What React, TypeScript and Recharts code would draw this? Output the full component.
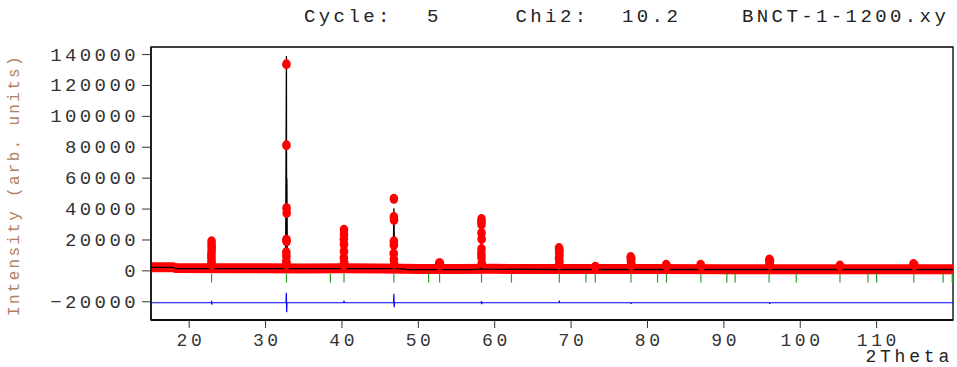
import React from "react";
import { ComposedChart, Line, Scatter, XAxis, YAxis, ReferenceArea } from "recharts";

const FONT = '"Liberation Mono", "Courier New", monospace';

const xTicks = [20, 30, 40, 50, 60, 70, 80, 90, 100, 110];
const yTicks = [-20000, 0, 20000, 40000, 60000, 80000, 100000, 120000, 140000];

// observed background band (2Theta, counts)
const obsBackground: [number, number][] = [
  [15, 2400], [17.8, 2400], [18.3, 1800], [25, 1700], [30, 1700], [35, 1600],
  [40, 1700], [45, 1600], [48, 1400], [50, 1200], [55, 1200], [60, 1300],
  [65, 1200], [70, 1200], [80, 1200], [90, 1100], [100, 1100], [110, 1100], [120, 1100],
];

// observed points on the reflections
const obsPeaks: [number, number][] = [
  [22.93, 19100], [22.93, 16800], [22.95, 14800], [22.93, 12500], [22.91, 10500], [22.91, 8600], [22.93, 6500], [22.89, 4500], [22.97, 4000],
  [32.73, 133700], [32.73, 81300], [32.75, 40600], [32.76, 37400], [32.73, 20200], [32.75, 19100], [32.71, 12000], [32.73, 9400], [32.71, 6200], [32.77, 4200],
  [40.27, 26600], [40.27, 23500], [40.25, 20500], [40.27, 17000], [40.27, 12500], [40.25, 8400], [40.29, 5500], [40.23, 3800],
  [46.8, 46600], [46.8, 34800], [46.82, 33000], [46.8, 19100], [46.8, 16800], [46.78, 11200], [46.8, 7300], [46.84, 4500],
  [52.74, 5000], [52.84, 4800], [52.78, 3500],
  [58.27, 33500], [58.27, 32000], [58.27, 30000], [58.27, 24500], [58.29, 20600], [58.27, 14200], [58.25, 11000], [58.27, 8600], [58.31, 5000],
  [68.42, 14800], [68.48, 13500], [68.44, 12000], [68.48, 10000], [68.42, 8000], [68.48, 6000], [68.44, 4000],
  [73.17, 2600],
  [77.8, 9000], [77.88, 8000], [77.82, 6500], [77.88, 5000], [77.84, 3500],
  [82.45, 4000], [82.52, 3000],
  [86.95, 4000], [87.03, 3200],
  [95.95, 7300], [96.05, 6500], [95.97, 5000], [96.03, 3800],
  [105.2, 3400],
  [114.82, 4500], [114.95, 3700],
];

// calculated profile
const calcProfile: [number, number][] = [
  [15, 2300], [17.8, 2300], [18.2, 1500], [22.8, 1500], [22.93, 21300], [23.06, 1500],
  [32.62, 1500], [32.73, 139000], [32.76, 4000], [32.79, 60000], [32.86, 1500],
  [40.17, 1500], [40.27, 24900], [40.37, 1500], [46.7, 1500], [46.8, 40600], [46.9, 1500],
  [48, 1300], [48.5, 800], [52.65, 800], [52.78, 3000], [52.9, 800], [57, 800], [57.5, 1100],
  [58.17, 1100], [58.27, 26600], [58.37, 1100], [68.36, 900], [68.46, 11600], [68.56, 900],
  [73.1, 900], [73.17, 2800], [73.25, 900], [77.75, 900], [77.84, 6500], [77.95, 900],
  [82.4, 900], [82.49, 2800], [82.6, 900], [86.9, 900], [86.99, 2800], [87.1, 900],
  [95.9, 900], [96.0, 5000], [96.12, 900], [105.1, 900], [105.2, 2500], [105.3, 900],
  [114.75, 900], [114.87, 2800], [115, 900], [120, 900],
];

// Bragg reflection positions
const braggPositions = [
  22.93, 32.74, 38.49, 40.27, 46.8, 51.34, 52.78, 58.27, 62.19, 68.46, 71.95, 73.17,
  77.84, 81.32, 82.49, 86.99, 90.39, 91.47, 95.92, 99.48, 105.2, 108.86, 110.0, 114.87, 118.7, 119.9,
];
const braggLevel = -4650;

// Yobs - Ycalc, shifted
const difference: [number, number][] = [
  [15, -20650], [22.88, -20650], [22.93, -19400], [22.97, -21800], [23.0, -20650],
  [32.68, -20650], [32.72, -14200], [32.76, -26700], [32.8, -20650],
  [40.24, -20650], [40.27, -19200], [40.31, -20650],
  [46.76, -20650], [46.8, -14800], [46.84, -23500], [46.88, -20650],
  [58.22, -20650], [58.27, -19600], [58.31, -21600], [58.35, -20650],
  [68.43, -20650], [68.46, -19200], [68.5, -20650],
  [77.82, -20650], [77.85, -21400], [77.88, -20650],
  [95.98, -20650], [96.01, -21300], [96.04, -20650], [120, -20650],
];

const pts = (rows: [number, number][]) => rows.map(([x, y]) => ({ x, y }));

const RedDot = (p: any) => <ellipse cx={p.cx} cy={p.cy} rx={4.3} ry={5} fill="#ff0000" />;
const BraggTick = (p: any) => (
  <line x1={p.cx} x2={p.cx} y1={p.cy - 4.5} y2={p.cy + 4.5} stroke="#2e9e2e" strokeWidth={1.2} />
);

const YTick = ({ x, y, payload }: any) => (
  <text x={x} y={y} dy={6} textAnchor="end" fontFamily={FONT} fontSize={19} letterSpacing={3.4} fill="#333">
    {String(payload.value).replace("-", "\u2212")}
  </text>
);
const XTick = ({ x, y, payload }: any) => (
  <text x={x + 1.8} y={y} dy={13} textAnchor="middle" fontFamily={FONT} fontSize={18} letterSpacing={3.6} fill="#333">
    {payload.value}
  </text>
);

export default function App() {
  const txt = { fontFamily: FONT, fontSize: 19, letterSpacing: 3.4, fill: "#222" };
  return (
    <div style={{ position: "absolute", left: 0, top: 0, width: 957, height: 367, background: "#fff" }}>
      <ComposedChart width={957} height={367} margin={{ top: 47, right: 4, bottom: 0, left: 0 }}>
        <XAxis
          type="number"
          dataKey="x"
          domain={[15, 120]}
          ticks={xTicks}
          allowDataOverflow
          height={47}
          tickSize={8}
          tickMargin={5}
          tick={<XTick />}
          axisLine={{ stroke: "#000", strokeWidth: 1.3 }}
          tickLine={{ stroke: "#333" }}
        />
        <YAxis
          type="number"
          dataKey="y"
          domain={[-31800, 144900]}
          ticks={yTicks}
          allowDataOverflow
          width={151}
          tickSize={9}
          tickMargin={3}
          tick={<YTick />}
          axisLine={{ stroke: "#000", strokeWidth: 1.3 }}
          tickLine={{ stroke: "#333" }}
        />
        <Line data={pts(obsBackground)} dataKey="y" stroke="#ff0000" strokeWidth={10} strokeLinecap="butt" dot={false} isAnimationActive={false} />
        <Scatter data={pts(obsPeaks)} dataKey="y" shape={RedDot} isAnimationActive={false} />
        <Line data={pts(calcProfile)} dataKey="y" stroke="#000" strokeWidth={1.3} dot={false} isAnimationActive={false} />
        <Scatter data={braggPositions.map((x) => ({ x, y: braggLevel }))} dataKey="y" shape={BraggTick} isAnimationActive={false} />
        <Line data={pts(difference)} dataKey="y" stroke="#0000ff" strokeWidth={1.2} dot={false} isAnimationActive={false} />
        <ReferenceArea x1={15} x2={120} y1={-31800} y2={144900} fill="none" stroke="#000" strokeWidth={1.3} />
      </ComposedChart>
      <svg width={957} height={367} style={{ position: "absolute", left: 0, top: 0, pointerEvents: "none" }}>
        <text x={304} y={22} {...txt}>Cycle:</text>
        <text x={427} y={22} {...txt}>5</text>
        <text x={515.5} y={22} {...txt}>Chi2:</text>
        <text x={622} y={22} {...txt}>10.2</text>
        <text x={742} y={22} {...txt}>BNCT-1-1200.xy</text>
        <text x={953} y={362} textAnchor="end" {...txt} fontSize={18} letterSpacing={3.8}>2Theta</text>
        <text
          x={0}
          y={0}
          transform="translate(18.5 316) rotate(-90)"
          fontFamily={FONT}
          fontSize={16}
          letterSpacing={2.3}
          fill="#b08060"
        >
          Intensity (arb. units)
        </text>
      </svg>
    </div>
  );
}
